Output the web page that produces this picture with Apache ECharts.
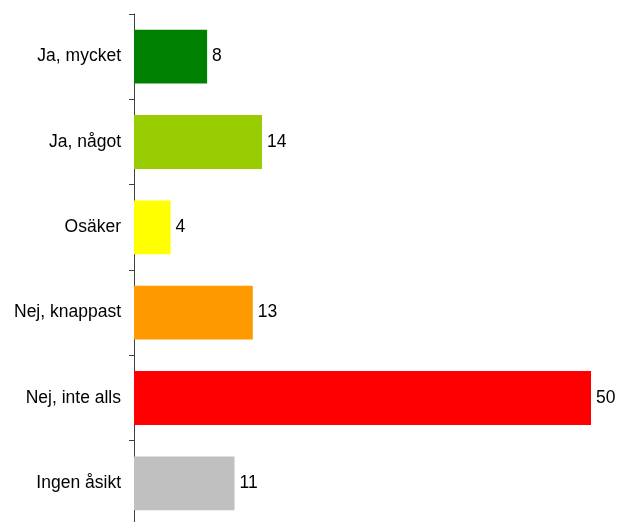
<!DOCTYPE html>
<html>
<head>
<meta charset="utf-8">
<script src="https://cdn.jsdelivr.net/npm/echarts@6/dist/echarts.min.js"></script>
<style>
  html, body { margin: 0; padding: 0; background: #fff; }
  #chart { width: 620px; height: 522px; }
</style>
</head>
<body>
<div id="chart"></div>
<script>
const categories = ['Ja, mycket', 'Ja, något', 'Osäker', 'Nej, knappast', 'Nej, inte alls', 'Ingen åsikt'];
const values = [8, 14, 4, 13, 50, 11];
const colors = ['#008000', '#99CC00', '#FFFF00', '#FF9900', '#FF0000', '#C0C0C0'];

const chart = echarts.init(document.getElementById('chart'));

chart.setOption({
  animation: false,
  grid: {
    left: 134,
    right: 29,
    top: 14,
    height: 512,
    outerBoundsMode: 'none'
  },
  xAxis: {
    type: 'value',
    min: 0,
    max: 50,
    show: false
  },
  yAxis: {
    type: 'category',
    inverse: true,
    data: categories,
    axisLine: { lineStyle: { color: '#404040', width: 1 } },
    axisTick: { show: true, length: 5, lineStyle: { color: '#404040' } },
    axisLabel: {
      color: '#000',
      fontFamily: 'Liberation Sans, Arial, sans-serif',
      fontSize: 17.5,
      margin: 13
    }
  },
  series: [
    {
      type: 'bar',
      barWidth: '63%',
      data: values.map((v, i) => ({ value: v, itemStyle: { color: colors[i] } })),
      label: {
        show: true,
        position: 'right',
        distance: 5,
        color: '#000',
        fontFamily: 'Liberation Sans, Arial, sans-serif',
        fontSize: 17.5
      }
    }
  ]
});
</script>
</body>
</html>
